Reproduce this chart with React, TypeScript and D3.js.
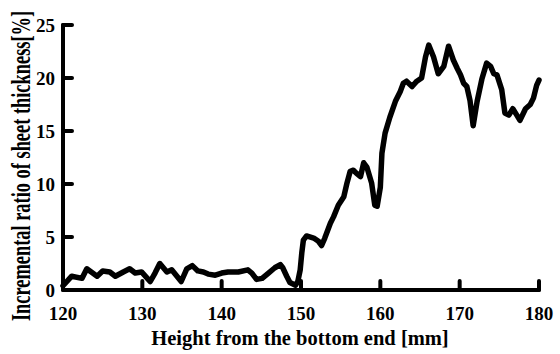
import React from "react";
import * as d3 from "d3";

const heights: number[] = [
  120.0, 121.1, 122.4, 123.0, 124.3, 125.0, 125.9, 126.6, 127.6, 128.4, 129.1, 129.9,
  131.0, 131.6, 132.2, 133.1, 133.7, 134.9, 135.6, 136.3, 137.0, 137.7, 138.3, 139.2,
  140.0, 140.8, 142.1, 143.3, 143.8, 144.4, 145.1, 145.9, 146.7, 147.4, 147.7, 148.2,
  148.6, 149.3, 149.6, 149.9, 150.1, 150.3, 150.7, 151.6, 152.2, 152.6, 153.0, 153.7,
  154.1, 154.7, 155.4, 155.8, 156.2, 156.6, 157.0, 157.5, 157.9, 158.3, 158.9, 159.3,
  159.6, 160.0, 160.2, 160.6, 161.2, 161.9, 162.5, 162.9, 163.3, 164.0, 164.6, 165.2,
  165.7, 166.1, 166.7, 167.3, 168.0, 168.6, 169.2, 169.7, 170.1, 170.5, 170.9, 171.3,
  171.7, 172.2, 172.8, 173.4, 173.9, 174.3, 174.7, 175.3, 175.7, 176.2, 176.7, 177.2,
  177.6, 178.3, 178.9, 179.3, 179.7, 180.0,
];
const ratios: number[] = [
  0.4, 1.3, 1.1, 2.0, 1.3, 1.8, 1.7, 1.3, 1.7, 2.0, 1.6, 1.7,
  0.8, 1.6, 2.5, 1.7, 1.9, 0.8, 2.0, 2.3, 1.8, 1.7, 1.5, 1.4,
  1.6, 1.7, 1.7, 1.9, 1.6, 1.0, 1.1, 1.6, 2.1, 2.4, 2.1, 1.3,
  0.7, 0.45, 0.8, 1.9, 3.5, 4.7, 5.1, 4.9, 4.6, 4.2, 4.9, 6.3,
  6.9, 8.0, 8.8, 10.1, 11.2, 11.3, 11.0, 10.7, 12.0, 11.6, 10.1, 8.0,
  7.9, 9.7, 12.9, 14.8, 16.3, 17.8, 18.7, 19.5, 19.7, 19.2, 19.7, 20.0,
  22.0, 23.1, 22.0, 20.4, 21.1, 23.0, 21.7, 20.9, 20.3, 19.5, 19.2, 17.9,
  15.5, 17.8, 19.9, 21.4, 21.1, 20.4, 20.3, 18.9, 16.7, 16.5, 17.1, 16.5,
  16.0, 17.1, 17.5, 18.1, 19.3, 19.8,
];
const xTicks: number[] = [120, 130, 140, 150, 160, 170, 180];
const yTicks: number[] = [0, 5, 10, 15, 20, 25];
const xTitle = "Height from the bottom end [mm]";
const yTitle = "Incremental ratio of sheet thickness[%]";

export default function App() {
  const W = 560, H = 354;
  const x = d3.scaleLinear().domain([120, 180]).range([63, 539]);
  const y = d3.scaleLinear().domain([0, 25]).range([290, 25]);
  const data = heights.map((h, i) => [h, ratios[i]] as [number, number]);
  const line = d3.line<[number, number]>().x(d => x(d[0])).y(d => y(d[1])).curve(d3.curveLinear);
  const font = "'Liberation Serif', 'Times New Roman', serif";
  return (
    <svg width={W} height={H} style={{ position: "absolute", left: 0, top: 0, background: "#fff" }}>
      <path d={line(data) || ""} fill="none" stroke="#000" strokeWidth={5.5} strokeLinejoin="round" strokeLinecap="round" />
      <line x1={x(120)} x2={x(180)} y1={y(0)} y2={y(0)} stroke="#000" strokeWidth={4} strokeLinecap="round" />
      <line x1={x(120)} x2={x(120)} y1={y(0)} y2={y(25)} stroke="#000" strokeWidth={4} strokeLinecap="round" />
      {xTicks.map(t => (
        <g key={"x" + t}>
          {t !== 120 && <line x1={x(t)} x2={x(t)} y1={y(0)} y2={y(0) - 9} stroke="#000" strokeWidth={4} strokeLinecap="round" />}
          <text x={x(t)} y={320} textAnchor="middle" fontFamily={font} fontWeight="bold" fontSize={19}>{t}</text>
        </g>
      ))}
      {yTicks.map(t => (
        <g key={"y" + t}>
          {t !== 0 && <line x1={x(120)} x2={x(120) + 9} y1={y(t)} y2={y(t)} stroke="#000" strokeWidth={4} strokeLinecap="round" />}
          <text x={55} y={y(t)} dy="0.35em" textAnchor="end" fontFamily={font} fontWeight="bold" fontSize={19}>{t}</text>
        </g>
      ))}
      <text x={300} y={345} textAnchor="middle" fontFamily={font} fontWeight="bold" fontSize={20.5}>{xTitle}</text>
      <text transform="translate(30,166) rotate(-90) scale(1,1.45)" textAnchor="middle" fontFamily={font} fontWeight="bold" fontSize={18.4}>{yTitle}</text>
    </svg>
  );
}
